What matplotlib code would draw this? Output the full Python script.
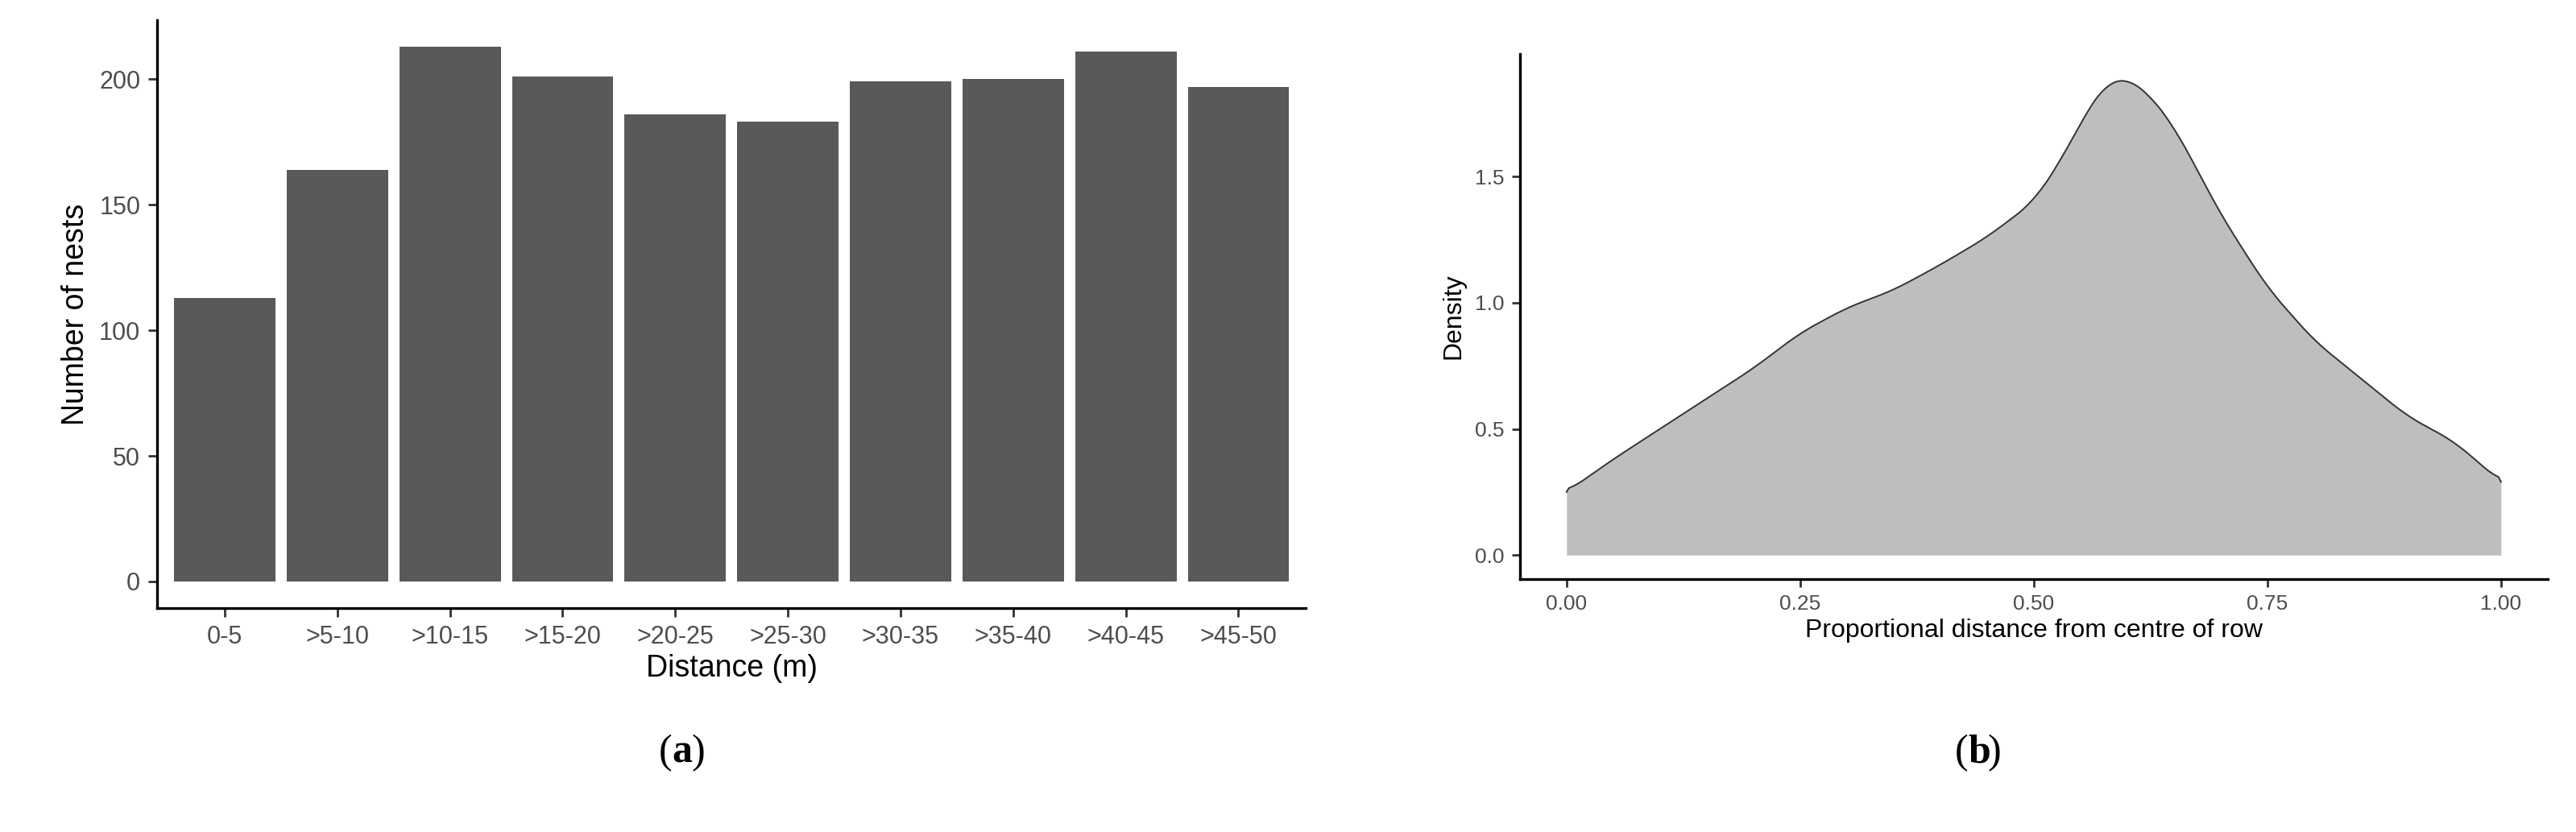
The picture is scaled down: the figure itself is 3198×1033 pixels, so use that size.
import numpy as np
import matplotlib
matplotlib.use("Agg")
import matplotlib.pyplot as plt

categories = ["0-5", ">5-10", ">10-15", ">15-20", ">20-25", ">25-30", ">30-35", ">35-40", ">40-45", ">45-50"]
counts = [113, 164, 213, 201, 186, 183, 199, 200, 211, 197]

dens_x = [0.0, 0.05, 0.1, 0.15, 0.2, 0.25, 0.3, 0.35, 0.4, 0.45, 0.5, 0.53, 0.56, 0.58, 0.6, 0.62, 0.65, 0.7, 0.75, 0.8, 0.85, 0.9, 0.95, 1.0]
dens_y = [0.25, 0.38, 0.50, 0.62, 0.74, 0.88, 0.98, 1.05, 1.15, 1.26, 1.40, 1.57, 1.78, 1.88, 1.89, 1.84, 1.70, 1.35, 1.06, 0.85, 0.70, 0.55, 0.45, 0.29]

plt.rcParams['font.family'] = ['Liberation Sans', 'DejaVu Sans']
fig = plt.figure(figsize=(15.99, 5.165), dpi=200)

ax1 = fig.add_axes([0.061, 0.269, 0.446, 0.707])
x = np.arange(len(categories))
ax1.bar(x, counts, width=0.9, color="#595959")
ax1.set_xlim(-0.6, len(categories) - 0.4)
ax1.set_ylim(-10.65, 223.6)
ax1.set_yticks([0, 50, 100, 150, 200])
ax1.set_xticks(x)
ax1.set_xticklabels(categories)
ax1.tick_params(labelsize=11, colors="#4d4d4d", length=4, width=1)
ax1.tick_params(axis='both', colors="#333333", labelcolor="#4d4d4d")
ax1.set_xlabel("Distance (m)", fontsize=13.5, labelpad=2)
ax1.set_ylabel("Number of nests", fontsize=13.5, labelpad=4)
for s in ["top", "right"]:
    ax1.spines[s].set_visible(False)
for s in ["left", "bottom"]:
    ax1.spines[s].set_linewidth(1.2)

ax2 = fig.add_axes([0.590, 0.304, 0.399, 0.631])
gx = np.linspace(0, 1, 400)
# smooth with cubic interpolation via numpy polyfit pieces
gy = np.interp(gx, dens_x, dens_y)
k = np.ones(15) / 15
gy_s = np.convolve(np.pad(gy, 7, mode='edge'), k, mode='valid')
gy_s[0] = dens_y[0]; gy_s[-1] = dens_y[-1]
ax2.fill_between(gx, 0, gy_s, color="#bebebe", linewidth=0)
ax2.plot(gx, gy_s, color="#333333", linewidth=0.7)
ax2.set_xlim(-0.05, 1.05)
ax2.set_ylim(-0.095, 1.985)
ax2.set_xticks([0, 0.25, 0.5, 0.75, 1.0])
ax2.set_xticklabels(["0.00", "0.25", "0.50", "0.75", "1.00"])
ax2.set_yticks([0, 0.5, 1.0, 1.5])
ax2.set_yticklabels(["0.0", "0.5", "1.0", "1.5"])
ax2.tick_params(labelsize=9.5, colors="#333333", labelcolor="#4d4d4d", length=3.5, width=1)
ax2.set_xlabel("Proportional distance from centre of row", fontsize=11.5, labelpad=2)
ax2.set_ylabel("Density", fontsize=11.5, labelpad=4)
for s in ["top", "right"]:
    ax2.spines[s].set_visible(False)
for s in ["left", "bottom"]:
    ax2.spines[s].set_linewidth(1.2)

for xp, lab in [(0.261, "a"), (0.764, "b")]:
    fig.text(xp, 0.095, r"(", fontsize=18, family="Liberation Serif", ha="right", va="center")
    fig.text(xp, 0.095, lab, fontsize=18, family="Liberation Serif", weight="bold", ha="left", va="center")
    fig.text(xp + 0.0075, 0.095, r")", fontsize=18, family="Liberation Serif", ha="left", va="center")

fig.savefig("out.png", dpi=200)
